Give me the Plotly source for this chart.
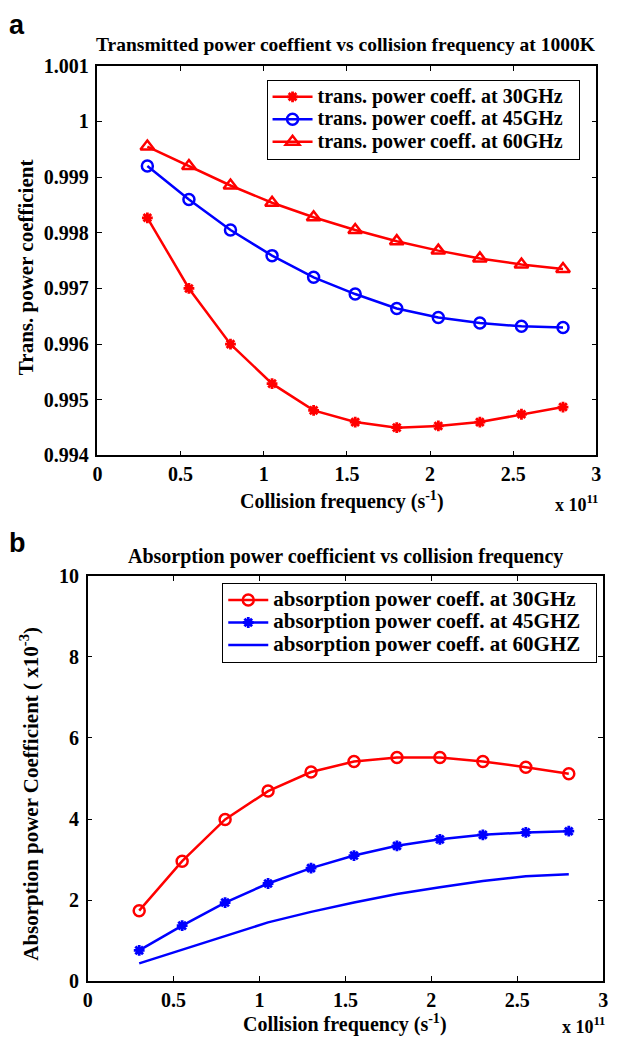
import plotly.graph_objects as go

# ---------------- data ----------------
# collision frequency in units of 1e11 s^-1
coll_freq = [0.3, 0.55, 0.8, 1.05, 1.3, 1.55, 1.8, 2.05, 2.3, 2.55, 2.8]

trans_30ghz = [0.99827, 0.99700, 0.99600, 0.99529, 0.99481, 0.99460,
               0.99450, 0.99453, 0.99460, 0.99474, 0.99487]
trans_45ghz = [0.99920, 0.99860, 0.99805, 0.99759, 0.99720, 0.99690,
               0.99664, 0.99648, 0.99638, 0.99632, 0.99630]
trans_60ghz = [0.99955, 0.99920, 0.99885, 0.99854, 0.99828, 0.99805,
               0.99785, 0.99768, 0.99754, 0.99743, 0.99735]

abs_30ghz = [1.74, 2.96, 3.99, 4.69, 5.16, 5.42, 5.52, 5.52, 5.42, 5.28, 5.12]
abs_45ghz = [0.76, 1.37, 1.94, 2.41, 2.79, 3.10, 3.34, 3.50, 3.61, 3.67, 3.70]
abs_60ghz = [0.44, 0.78, 1.11, 1.45, 1.71, 1.94, 2.15, 2.32, 2.47, 2.59, 2.64]

top_names = ["trans. power coeff. at 30GHz", "trans. power coeff. at 45GHz",
             "trans. power coeff. at 60GHz"]
bot_names = ["absorption power coeff. at 30GHz", "absorption power coeff. at 45GHZ",
             "absorption power coeff. at 60GHZ"]

x_tickvals = [0, 0.5, 1, 1.5, 2, 2.5, 3]
x_ticktext = ["0", "0.5", "1", "1.5", "2", "2.5", "3"]
top_y_tickvals = [0.994, 0.995, 0.996, 0.997, 0.998, 0.999, 1.0, 1.001]
top_y_ticktext = ["0.994", "0.995", "0.996", "0.997", "0.998", "0.999", "1", "1.001"]
bot_y_tickvals = [0, 2, 4, 6, 8, 10]
bot_y_ticktext = ["0", "2", "4", "6", "8", "10"]

# ---------------- layout helpers ----------------
W, H = 618, 1047
def px(x):
    return x / W
def py(y):
    return 1 - y / H

SERIF = "Liberation Serif"
RED = "rgb(255,0,0)"
BLUE = "rgb(0,0,255)"

def legend_label(s, size):
    # visible legend text size; legend row height follows the (smaller) legend font
    return f'<span style="font-size:{size}px">{s}&nbsp;&nbsp;</span>'

fig = go.Figure()

# top panel traces
fig.add_trace(go.Scatter(
    x=coll_freq, y=trans_30ghz, mode="lines+markers",
    name=legend_label(top_names[0], 20),
    line=dict(color=RED, width=2.5),
    marker=dict(symbol="asterisk-open", size=9, line=dict(color=RED, width=2.8)),
    xaxis="x", yaxis="y", legend="legend"))
fig.add_trace(go.Scatter(
    x=coll_freq, y=trans_45ghz, mode="lines+markers",
    name=legend_label(top_names[1], 20),
    line=dict(color=BLUE, width=2.5),
    marker=dict(symbol="circle-open", size=11, line=dict(color=BLUE, width=2.5)),
    xaxis="x", yaxis="y", legend="legend"))
fig.add_trace(go.Scatter(
    x=coll_freq, y=trans_60ghz, mode="lines+markers",
    name=legend_label(top_names[2], 20),
    line=dict(color=RED, width=2.5),
    marker=dict(symbol="triangle-up-open", size=12, line=dict(color=RED, width=2.5)),
    xaxis="x", yaxis="y", legend="legend"))

# bottom panel traces
fig.add_trace(go.Scatter(
    x=coll_freq, y=abs_30ghz, mode="lines+markers",
    name=legend_label(bot_names[0], 21),
    line=dict(color=RED, width=2.5),
    marker=dict(symbol="circle-open", size=11, line=dict(color=RED, width=2.5)),
    xaxis="x2", yaxis="y2", legend="legend2"))
fig.add_trace(go.Scatter(
    x=coll_freq, y=abs_45ghz, mode="lines+markers",
    name=legend_label(bot_names[1], 21),
    line=dict(color=BLUE, width=2.5),
    marker=dict(symbol="asterisk-open", size=9, line=dict(color=BLUE, width=2.8)),
    xaxis="x2", yaxis="y2", legend="legend2"))
fig.add_trace(go.Scatter(
    x=coll_freq, y=abs_60ghz, mode="lines",
    name=legend_label(bot_names[2], 21),
    line=dict(color=BLUE, width=2.5),
    xaxis="x2", yaxis="y2", legend="legend2"))

tickfont = dict(family=SERIF, size=20, color="black", weight="bold")
axis_common = dict(showgrid=False, zeroline=False, showline=True, linecolor="black",
                   linewidth=1.5, mirror="ticks", ticks="inside", ticklen=5,
                   tickcolor="black", tickwidth=1, tickfont=tickfont)

fig.update_layout(
    width=W, height=H, margin=dict(l=0, r=0, t=0, b=0),
    plot_bgcolor="white", paper_bgcolor="white",
    xaxis=dict(domain=[px(94), px(601)], range=[0, 3], tickvals=x_tickvals,
               ticktext=x_ticktext, anchor="y", **axis_common),
    yaxis=dict(domain=[py(454), py(56)], range=[0.994, 1.001], tickvals=top_y_tickvals,
               ticktext=top_y_ticktext, anchor="x", ticklabelstandoff=3, **axis_common),
    xaxis2=dict(domain=[px(84), px(608)], range=[0, 3], tickvals=x_tickvals,
                ticktext=x_ticktext, anchor="y2", **axis_common),
    yaxis2=dict(domain=[py(991), py(577)], range=[0, 10], tickvals=bot_y_tickvals,
                ticktext=bot_y_ticktext, anchor="x2", ticklabelstandoff=3, **axis_common),
    legend=dict(x=px(584), y=py(70), xanchor="right", yanchor="top",
                bordercolor="black", borderwidth=1, bgcolor="white",
                font=dict(family=SERIF, size=15, color="black", weight="bold"),
                tracegroupgap=0, itemwidth=40),
    legend2=dict(x=px(602), y=py(584), xanchor="right", yanchor="top",
                 bordercolor="black", borderwidth=1, bgcolor="white",
                 font=dict(family=SERIF, size=15, color="black", weight="bold"),
                 tracegroupgap=0, itemwidth=40),
)

def text(x, y, s, size=17, family=SERIF, angle=0, xanchor="center", yanchor="middle"):
    fig.add_annotation(x=px(x), y=py(y), xref="paper", yref="paper", text=s,
                       showarrow=False, textangle=angle, xanchor=xanchor, yanchor=yanchor,
                       font=dict(family=family, size=size, color="black", weight="bold"))

# panel letters
text(2, 14, "a", size=27, family="Liberation Sans", xanchor="left")
text(2, 543, "b", size=27, family="Liberation Sans", xanchor="left")

# titles
text(347, 34, "Transmitted power coeffient vs collision frequency at 1000K", size=19.5)
text(346, 557, "Absorption power coefficient vs collision frequency", size=20)

# axis titles
text(22, 262, "Trans. power coefficient", size=21, angle=-90)
text(25, 800, "Absorption power Coefficient ( x10<sup>-3</sup>)", size=21, angle=-90)
text(343, 500, "Collision frequency (s<sup>-1</sup>)", size=20)
text(346, 1034, "Collision frequency (s<sup>-1</sup>)", size=20)
text(605, 503, "x 10<sup>11</sup>", size=18, xanchor="right")
text(612, 1036, "x 10<sup>11</sup>", size=18, xanchor="right")

fig.write_html("out.html",
               config={"displayModeBar": False},
               post_script="document.body.style.margin='0';document.body.style.overflow='hidden';")
